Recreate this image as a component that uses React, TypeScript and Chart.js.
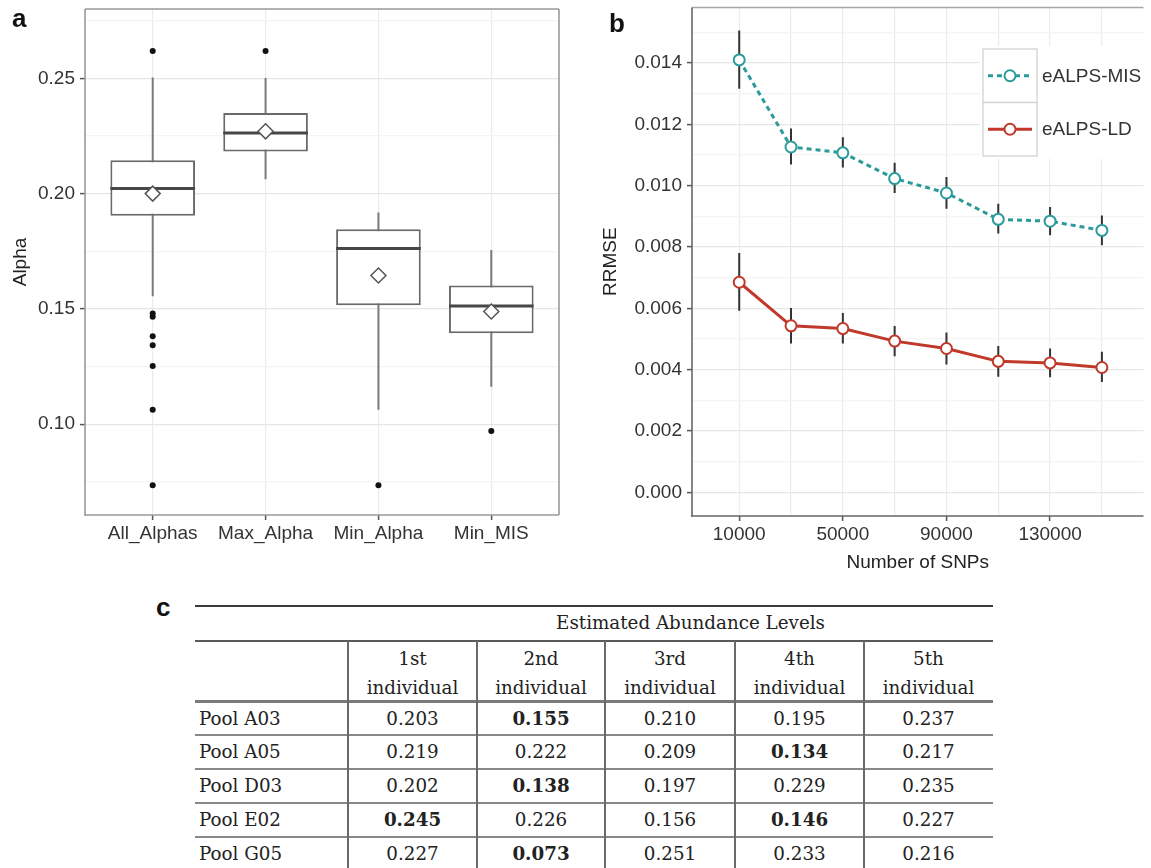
import React, { useEffect, useRef } from 'react';
import { Chart, registerables } from 'chart.js';

Chart.register(...registerables);

// ---------------- Panel a: box plots ----------------
const boxCategories = ['All_Alphas', 'Max_Alpha', 'Min_Alpha', 'Min_MIS'];
const boxLowerWhisker = [0.1555, 0.2062, 0.1063, 0.1163];
const boxQ1 = [0.1904, 0.2183, 0.1516, 0.1394];
const boxMedian = [0.2022, 0.2263, 0.1762, 0.1513];
const boxQ3 = [0.2145, 0.2349, 0.1845, 0.1602];
const boxUpperWhisker = [0.2503, 0.2501, 0.1918, 0.1756];
const boxMean = [0.2, 0.227, 0.1645, 0.1489];
const boxOutliers = [
  [0.2618, 0.148, 0.1466, 0.1382, 0.1342, 0.1253, 0.1063, 0.0736],
  [0.2618],
  [0.0736],
  [0.0971],
];
const alphaMajorTicks = [0.1, 0.15, 0.2, 0.25];
const alphaMinorTicks = [0.075, 0.125, 0.175, 0.225, 0.275];

// ---------------- Panel b: RRMSE lines ----------------
const snpCounts = [10000, 30000, 50000, 70000, 90000, 110000, 130000, 150000];
const misRrmse = [0.0141, 0.01126, 0.01107, 0.01023, 0.00976, 0.0089, 0.00884, 0.00854];
const misLower = [0.01316, 0.01069, 0.01059, 0.00976, 0.00925, 0.00844, 0.00838, 0.00806];
const misUpper = [0.01506, 0.01186, 0.01158, 0.01075, 0.01028, 0.00941, 0.0093, 0.00903];
const ldRrmse = [0.00685, 0.00543, 0.00534, 0.00493, 0.00469, 0.00427, 0.00422, 0.00407];
const ldLower = [0.00592, 0.00485, 0.00485, 0.00444, 0.00417, 0.00377, 0.00375, 0.0036];
const ldUpper = [0.0078, 0.00601, 0.00585, 0.00542, 0.00521, 0.00477, 0.00469, 0.00458];
const snpMajorTicks = [10000, 50000, 90000, 130000];
const snpMinorTicks = [30000, 70000, 110000, 150000];
const rrmseMajorTicks = [0, 0.002, 0.004, 0.006, 0.008, 0.01, 0.012, 0.014];
const rrmseMinorTicks = [0.001, 0.003, 0.005, 0.007, 0.009, 0.011, 0.013, 0.015];
const seriesNames = ['eALPS-MIS', 'eALPS-LD'];

// ---------------- Panel c: table ----------------
const tableTitle = 'Estimated Abundance Levels';
const individualHeaders = ['1st', '2nd', '3rd', '4th', '5th'];
const poolNames = ['Pool A03', 'Pool A05', 'Pool D03', 'Pool E02', 'Pool G05'];
const abundanceRows = [
  [0.203, 0.155, 0.21, 0.195, 0.237],
  [0.219, 0.222, 0.209, 0.134, 0.217],
  [0.202, 0.138, 0.197, 0.229, 0.235],
  [0.245, 0.226, 0.156, 0.146, 0.227],
  [0.227, 0.073, 0.251, 0.233, 0.216],
];
const boldCells = [
  [false, true, false, false, false],
  [false, false, false, true, false],
  [false, true, false, false, false],
  [true, false, false, true, false],
  [false, true, false, false, false],
];

const FONT = "'Liberation Sans', Arial, Helvetica, sans-serif";
const SERIF = "'DejaVu Serif', serif";
const TEAL = '#2a9a9a';
const RED = '#c0392b';

const near = (v: number, arr: number[]) => arr.some((a) => Math.abs(a - v) < 1e-9);

const noPad = (s: any) => {
  s.paddingTop = 0;
  s.paddingBottom = 0;
  s.paddingLeft = 0;
  s.paddingRight = 0;
};

const panelBorder = {
  id: 'panelBorder',
  afterDraw(chart: any, _args: any, opts: any) {
    const { ctx, chartArea } = chart;
    const { left, top, right, bottom } = chartArea;
    ctx.save();
    ctx.lineWidth = opts.width ?? 1.5;
    const side = (color: string, x1: number, y1: number, x2: number, y2: number) => {
      ctx.strokeStyle = color;
      ctx.beginPath();
      ctx.moveTo(x1, y1);
      ctx.lineTo(x2, y2);
      ctx.stroke();
    };
    const s = opts.sides || {};
    if (s.top) side(s.top, left, top, right, top);
    if (s.right) side(s.right, right, top, right, bottom);
    if (s.bottom) side(s.bottom, left - 0.75, bottom, right, bottom);
    if (s.left) side(s.left, left, top, left, bottom + 0.75);
    ctx.restore();
  },
};

const keyLegend = {
  id: 'keyLegend',
  afterDraw(chart: any, _args: any, opts: any) {
    if (!opts || !opts.indexes) return;
    const { ctx } = chart;
    const { x, y, keyW, keyH } = opts;
    const items = opts.indexes.map((i: number) => chart.data.datasets[i]);
    ctx.save();
    ctx.fillStyle = '#ffffff';
    ctx.fillRect(x - 3, y - 3, 170, keyH * items.length + 6);
    items.forEach((ds: any, k: number) => {
      const top = y + k * keyH;
      ctx.setLineDash([]);
      ctx.strokeStyle = '#cfcfcf';
      ctx.lineWidth = 1.2;
      ctx.strokeRect(x, top, keyW, keyH);
      const cy = top + keyH / 2;
      ctx.strokeStyle = ds.borderColor;
      ctx.lineWidth = ds.borderWidth;
      ctx.setLineDash(ds.borderDash || []);
      ctx.beginPath();
      ctx.moveTo(x + 5, cy);
      ctx.lineTo(x + keyW - 5, cy);
      ctx.stroke();
      ctx.setLineDash([]);
      ctx.beginPath();
      ctx.arc(x + keyW / 2, cy, ds.pointRadius, 0, Math.PI * 2);
      ctx.fillStyle = '#ffffff';
      ctx.fill();
      ctx.lineWidth = ds.pointBorderWidth;
      ctx.strokeStyle = ds.pointBorderColor;
      ctx.stroke();
      ctx.fillStyle = '#333333';
      ctx.font = `19px ${FONT}`;
      ctx.textBaseline = 'middle';
      ctx.textAlign = 'left';
      ctx.fillText(ds.label, x + keyW + 5, cy + 1);
    });
    ctx.restore();
  },
};

function BoxPanel() {
  const ref = useRef<HTMLCanvasElement | null>(null);
  useEffect(() => {
    if (!ref.current) return;
    const half = 0.375;
    const whiskerData = boxCategories.flatMap((_, i) => [
      { x: i + 1, y: boxLowerWhisker[i] },
      { x: i + 1, y: boxUpperWhisker[i] },
      { x: i + 1.5, y: null },
    ]);
    const medianData = boxCategories.flatMap((_, i) => [
      { x: i + 1 - half, y: boxMedian[i] },
      { x: i + 1 + half, y: boxMedian[i] },
      { x: i + 1.5, y: null },
    ]);
    const boxData = boxCategories.map((_, i) => ({ x: i + 1, y: [boxQ1[i], boxQ3[i]] }));
    const meanData = boxMean.map((m, i) => ({ x: i + 1, y: m }));
    const outlierData = boxOutliers.flatMap((arr, i) => arr.map((y) => ({ x: i + 1, y })));
    const allY = [...alphaMinorTicks, ...alphaMajorTicks].sort((a, b) => a - b);

    const chart = new Chart(ref.current, {
      type: 'bar',
      data: {
        datasets: [
          {
            type: 'line',
            label: 'whiskers',
            data: whiskerData as any,
            borderColor: '#7a7a7a',
            borderWidth: 2,
            pointRadius: 0,
            spanGaps: false,
            order: 4,
          },
          {
            type: 'bar',
            label: 'boxes',
            data: boxData as any,
            backgroundColor: '#ffffff',
            borderColor: '#6a6a6a',
            borderWidth: 2,
            borderSkipped: false,
            categoryPercentage: 0.75,
            barPercentage: 1,
            order: 3,
          },
          {
            type: 'line',
            label: 'medians',
            data: medianData as any,
            borderColor: '#474747',
            borderWidth: 3,
            pointRadius: 0,
            spanGaps: false,
            order: 2,
          },
          {
            type: 'scatter',
            label: 'means',
            data: meanData as any,
            pointStyle: 'rectRot',
            pointRadius: 7.5,
            backgroundColor: '#ffffff',
            borderColor: '#555555',
            borderWidth: 1.5,
            order: 1,
          },
          {
            type: 'scatter',
            label: 'outliers',
            data: outlierData as any,
            pointRadius: 3,
            backgroundColor: '#111111',
            borderWidth: 0,
            order: 0,
          },
        ],
      },
      options: {
        responsive: false,
        animation: false,
        devicePixelRatio: 1,
        layout: { padding: { left: 0, right: 11, top: 6, bottom: 15 } },
        plugins: {
          legend: { display: false },
          tooltip: { enabled: false },
          panelBorder: { width: 1.6, sides: { top: '#9a9a9a', right: '#9a9a9a', bottom: '#9a9a9a', left: '#9a9a9a' } },
        } as any,
        scales: {
          x: {
            type: 'linear',
            min: 0.4,
            max: 4.6,
            offset: false,
            afterBuildTicks: (s: any) => {
              s.ticks = boxCategories.map((_, i) => ({ value: i + 1 }));
            },
            afterFit: (s: any) => {
              s.height = 50;
              noPad(s);
            },
            ticks: {
              autoSkip: false,
              maxRotation: 0,
              padding: 2,
              color: '#333333',
              font: { family: FONT, size: 19 },
              callback: (v: any) => boxCategories[Math.round(Number(v)) - 1] ?? '',
            },
            grid: {
              offset: false,
              color: '#ebebeb',
              lineWidth: 1.2,
              tickLength: 5,
              tickColor: '#555555',
              tickWidth: 1.5,
            },
            border: { display: false },
          },
          y: {
            type: 'linear',
            min: 0.06065,
            max: 0.28004,
            beginAtZero: false,
            afterBuildTicks: (s: any) => {
              s.ticks = allY.map((v) => ({ value: v }));
            },
            afterFit: (s: any) => {
              s.width = 85;
              noPad(s);
            },
            ticks: {
              autoSkip: false,
              padding: 5,
              color: '#333333',
              font: { family: FONT, size: 19 },
              callback: (v: any) => (near(Number(v), alphaMajorTicks) ? Number(v).toFixed(2) : ''),
            },
            grid: {
              color: (c: any) => (c.tick && near(c.tick.value, alphaMajorTicks) ? '#e6e6e6' : '#f4f4f4'),
              lineWidth: 1.2,
              tickLength: 5,
              tickColor: (c: any) => (c.tick && near(c.tick.value, alphaMajorTicks) ? '#555555' : 'rgba(0,0,0,0)'),
              tickWidth: 1.5,
            },
            border: { display: false },
            title: {
              display: true,
              text: 'Alpha',
              color: '#222222',
              font: { family: FONT, size: 19 },
              padding: { top: 9, bottom: 0 },
            },
          },
        },
      } as any,
      plugins: [panelBorder],
    });
    return () => chart.destroy();
  }, []);
  return <canvas ref={ref} width={570} height={580} style={{ display: 'block' }} />;
}

function LinePanel() {
  const ref = useRef<HTMLCanvasElement | null>(null);
  useEffect(() => {
    if (!ref.current) return;
    const errData = (lo: number[], hi: number[]) =>
      snpCounts.flatMap((x, i) => [
        { x, y: lo[i] },
        { x, y: hi[i] },
        { x: x + 1, y: null },
      ]);
    const allX = [...snpMajorTicks, ...snpMinorTicks].sort((a, b) => a - b);
    const allY = [...rrmseMajorTicks, ...rrmseMinorTicks].sort((a, b) => a - b);

    const chart = new Chart(ref.current, {
      type: 'line',
      data: {
        datasets: [
          {
            label: 'err-mis',
            data: errData(misLower, misUpper) as any,
            borderColor: '#333333',
            borderWidth: 2,
            pointRadius: 0,
            spanGaps: false,
            order: 5,
          },
          {
            label: 'err-ld',
            data: errData(ldLower, ldUpper) as any,
            borderColor: '#333333',
            borderWidth: 2,
            pointRadius: 0,
            spanGaps: false,
            order: 4,
          },
          {
            label: seriesNames[0],
            data: snpCounts.map((x, i) => ({ x, y: misRrmse[i] })) as any,
            borderColor: TEAL,
            borderWidth: 3,
            borderDash: [5, 4],
            pointRadius: 5.5,
            pointBackgroundColor: '#ffffff',
            pointBorderColor: TEAL,
            pointBorderWidth: 2,
            order: 1,
          },
          {
            label: seriesNames[1],
            data: snpCounts.map((x, i) => ({ x, y: ldRrmse[i] })) as any,
            borderColor: RED,
            borderWidth: 3,
            pointRadius: 5.5,
            pointBackgroundColor: '#ffffff',
            pointBorderColor: RED,
            pointBorderWidth: 2,
            order: 0,
          },
        ],
      },
      options: {
        responsive: false,
        animation: false,
        devicePixelRatio: 1,
        layout: { padding: { left: 0, right: 0, top: 7, bottom: 2 } },
        plugins: {
          legend: { display: false },
          tooltip: { enabled: false },
          panelBorder: { width: 1.6, sides: { top: '#a8a8a8', bottom: '#666666', left: '#666666' } },
          keyLegend: { indexes: [2, 3], x: 413, y: 49, keyW: 54, keyH: 53.5 },
        } as any,
        scales: {
          x: {
            type: 'linear',
            min: -8227,
            max: 166062,
            offset: false,
            afterBuildTicks: (s: any) => {
              s.ticks = allX.map((v) => ({ value: v }));
            },
            afterFit: (s: any) => {
              s.height = 62;
              noPad(s);
            },
            ticks: {
              autoSkip: false,
              maxRotation: 0,
              padding: 2,
              color: '#333333',
              font: { family: FONT, size: 19 },
              callback: (v: any) => (near(Number(v), snpMajorTicks) ? String(v) : ''),
            },
            grid: {
              color: '#ececec',
              lineWidth: 1.2,
              tickLength: 5,
              tickColor: (c: any) => (c.tick && near(c.tick.value, snpMajorTicks) ? '#555555' : 'rgba(0,0,0,0)'),
              tickWidth: 1.5,
            },
            border: { display: false },
            title: {
              display: true,
              text: 'Number of SNPs',
              color: '#222222',
              font: { family: FONT, size: 19 },
              padding: { top: 0, bottom: 4 },
            },
          },
          y: {
            type: 'linear',
            min: -0.000772,
            max: 0.015808,
            afterBuildTicks: (s: any) => {
              s.ticks = allY.map((v) => ({ value: v }));
            },
            afterFit: (s: any) => {
              s.width = 122;
              noPad(s);
            },
            ticks: {
              autoSkip: false,
              padding: 5,
              color: '#333333',
              font: { family: FONT, size: 19 },
              callback: (v: any) => (near(Number(v), rrmseMajorTicks) ? Number(v).toFixed(3) : ''),
            },
            grid: {
              color: (c: any) => (c.tick && near(c.tick.value, rrmseMajorTicks) ? '#e6e6e6' : '#f4f4f4'),
              lineWidth: 1.2,
              tickLength: 5,
              tickColor: (c: any) => (c.tick && near(c.tick.value, rrmseMajorTicks) ? '#555555' : 'rgba(0,0,0,0)'),
              tickWidth: 1.5,
            },
            border: { display: false },
            title: {
              display: true,
              text: 'RRMSE',
              color: '#222222',
              font: { family: FONT, size: 19 },
              padding: { top: 29, bottom: 0 },
            },
          },
        },
      } as any,
      plugins: [panelBorder, keyLegend],
    });
    return () => chart.destroy();
  }, []);
  return <canvas ref={ref} width={581} height={580} style={{ display: 'block' }} />;
}

function TablePanel() {
  const colEdges = [195, 348, 477, 605, 735, 864, 993];
  const rowCenters = [719, 752, 786, 820, 854];
  const hLines = [
    { y: 605, w: 2, c: '#3a3a3a' },
    { y: 640, w: 2, c: '#5a5a5a' },
    { y: 700, w: 2.5, c: '#7a7a7a' },
    { y: 734, w: 2, c: '#888888' },
    { y: 768, w: 2, c: '#888888' },
    { y: 802, w: 2, c: '#888888' },
    { y: 836, w: 2, c: '#888888' },
  ];
  const text: React.CSSProperties = {
    position: 'absolute',
    fontFamily: SERIF,
    fontSize: 18.3,
    color: '#222222',
    height: 24,
    lineHeight: '24px',
    whiteSpace: 'nowrap',
  };
  const els: React.ReactNode[] = [];
  hLines.forEach((l, i) =>
    els.push(
      <div
        key={'h' + i}
        style={{ position: 'absolute', left: colEdges[0], width: colEdges[6] - colEdges[0], top: l.y, height: l.w, background: l.c }}
      />
    )
  );
  colEdges.slice(1, 6).forEach((x, i) =>
    els.push(
      <div key={'v' + i} style={{ position: 'absolute', left: x - 0.75, width: 1.5, top: 641, height: 868 - 641, background: '#6a6a6a' }} />
    )
  );
  els.push(
    <div key="title" style={{ ...text, left: colEdges[1], width: colEdges[6] - colEdges[1], top: 611, textAlign: 'center', paddingLeft: 40, boxSizing: 'border-box' }}>
      {tableTitle}
    </div>
  );
  individualHeaders.forEach((h, i) => {
    const left = colEdges[i + 1];
    const width = colEdges[i + 2] - left;
    els.push(
      <div key={'hd' + i} style={{ ...text, left, width, top: 647, textAlign: 'center' }}>
        {h}
      </div>
    );
    els.push(
      <div key={'hi' + i} style={{ ...text, left, width, top: 676, textAlign: 'center' }}>
        individual
      </div>
    );
  });
  poolNames.forEach((p, r) => {
    els.push(
      <div key={'p' + r} style={{ ...text, left: 199, top: rowCenters[r] - 12 }}>
        {p}
      </div>
    );
    abundanceRows[r].forEach((v, c) => {
      const left = colEdges[c + 1];
      const width = colEdges[c + 2] - left;
      els.push(
        <div
          key={'c' + r + '-' + c}
          style={{ ...text, left, width, top: rowCenters[r] - 12, textAlign: 'center', fontWeight: boldCells[r][c] ? 'bold' : 'normal' }}
        >
          {v.toFixed(3)}
        </div>
      );
    });
  });
  return <>{els}</>;
}

const panelLabel: React.CSSProperties = {
  position: 'absolute',
  fontFamily: FONT,
  fontWeight: 'bold',
  fontSize: 26,
  lineHeight: '26px',
  color: '#111111',
};

export default function App() {
  return (
    <div
      style={{
        position: 'absolute',
        left: 0,
        top: 0,
        width: 1151,
        height: 868,
        overflow: 'hidden',
        background: '#ffffff',
      }}
    >
      <div style={{ position: 'absolute', left: 0, top: 0 }}>
        <BoxPanel />
      </div>
      <div style={{ position: 'absolute', left: 570, top: 0 }}>
        <LinePanel />
      </div>
      <div style={{ ...panelLabel, left: 12, top: 5 }}>a</div>
      <div style={{ ...panelLabel, left: 609, top: 10 }}>b</div>
      <div style={{ ...panelLabel, left: 156, top: 594 }}>c</div>
      <TablePanel />
    </div>
  );
}
